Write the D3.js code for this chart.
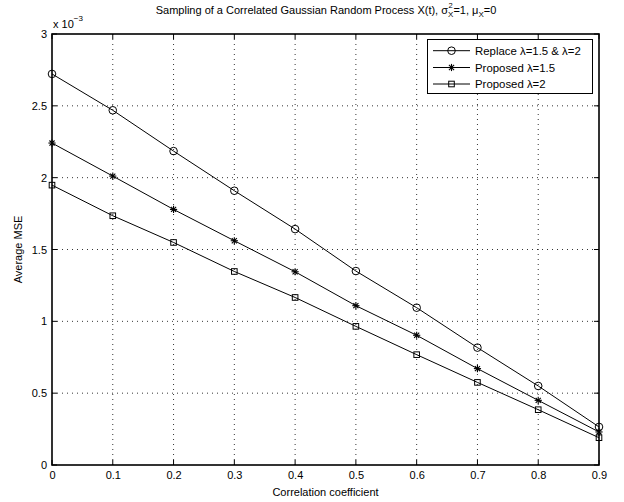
<!DOCTYPE html>
<html><head><meta charset="utf-8">
<script src="https://cdn.jsdelivr.net/npm/d3@7"></script>
<style>body{margin:0;background:#fff}svg{display:block}text{font-family:"Liberation Sans",Arial,sans-serif;fill:#000}</style>
</head><body>
<script>
const correlation = [0, 0.1, 0.2, 0.3, 0.4, 0.5, 0.6, 0.7, 0.8, 0.9];
const replaceMSE = [2.722, 2.469, 2.185, 1.909, 1.642, 1.350, 1.095, 0.817, 0.550, 0.265]; // x1e-3
const proposed15MSE = [2.241, 2.011, 1.779, 1.561, 1.345, 1.109, 0.903, 0.671, 0.450, 0.230];
const proposed2MSE = [1.948, 1.735, 1.549, 1.347, 1.166, 0.965, 0.768, 0.575, 0.385, 0.190];
const xTicks = [0, 0.1, 0.2, 0.3, 0.4, 0.5, 0.6, 0.7, 0.8, 0.9];
const yTicks = [0, 0.5, 1, 1.5, 2, 2.5, 3];
const seriesNames = ["Replace \u03bb=1.5 & \u03bb=2", "Proposed \u03bb=1.5", "Proposed \u03bb=2"];
const seriesMarkers = ["circle", "star", "square"];

const W = 624, H = 502;
const L = 52, R = 599, T = 34, B = 465;
const svg = d3.select("body").append("svg").attr("width", W).attr("height", H);
const x = d3.scaleLinear().domain([0, 0.9]).range([L, R]);
const y = d3.scaleLinear().domain([0, 3]).range([B, T]);

// grid
const g = svg.append("g");
g.selectAll(".vg").data(xTicks.slice(1, -1)).enter().append("line")
  .attr("x1", d => x(d)).attr("x2", d => x(d)).attr("y1", T).attr("y2", B)
  .attr("stroke", "#000").attr("stroke-width", 0.8).attr("stroke-dasharray", "1,4");
g.selectAll(".hg").data(yTicks.slice(1, -1)).enter().append("line")
  .attr("y1", d => y(d)).attr("y2", d => y(d)).attr("x1", L).attr("x2", R)
  .attr("stroke", "#000").attr("stroke-width", 0.8).attr("stroke-dasharray", "1,4");

// axes
const fs = 11;
const xAxisB = d3.axisBottom(x).tickValues(xTicks).tickSize(0).tickPadding(6).tickFormat(d3.format(""));
const ax = svg.append("g").attr("transform", `translate(0,${B})`).call(xAxisB);
ax.select(".domain").remove();
ax.selectAll("text").attr("font-size", fs).attr("font-family", "Liberation Sans, Arial, sans-serif");
const yAxisL = d3.axisLeft(y).tickValues(yTicks).tickSize(0).tickPadding(5).tickFormat(d3.format(""));
const ay = svg.append("g").attr("transform", `translate(${L},0)`).call(yAxisL);
ay.select(".domain").remove();
ay.selectAll("text").attr("font-size", fs).attr("font-family", "Liberation Sans, Arial, sans-serif");

// inner ticks
const tk = 5;
xTicks.forEach(v => {
  svg.append("line").attr("x1", x(v)).attr("x2", x(v)).attr("y1", B).attr("y2", B - tk).attr("stroke", "#000");
  svg.append("line").attr("x1", x(v)).attr("x2", x(v)).attr("y1", T).attr("y2", T + tk).attr("stroke", "#000");
});
yTicks.forEach(v => {
  svg.append("line").attr("y1", y(v)).attr("y2", y(v)).attr("x1", L).attr("x2", L + tk).attr("stroke", "#000");
  svg.append("line").attr("y1", y(v)).attr("y2", y(v)).attr("x1", R).attr("x2", R - tk).attr("stroke", "#000");
});
svg.append("rect").attr("x", L).attr("y", T).attr("width", R - L).attr("height", B - T)
  .attr("fill", "none").attr("stroke", "#000").attr("stroke-width", 1.6);

// markers
function drawMarker(sel, type, cx, cy) {
  if (type === "circle") {
    sel.append("circle").attr("cx", cx).attr("cy", cy).attr("r", 3.8).attr("fill", "none").attr("stroke", "#000").attr("stroke-width", 1);
  } else if (type === "square") {
    sel.append("rect").attr("x", cx - 2.8).attr("y", cy - 2.8).attr("width", 5.6).attr("height", 5.6).attr("fill", "none").attr("stroke", "#000").attr("stroke-width", 1);
  } else {
    const r = 3.6;
    [0, 45, 90, 135].forEach(a => {
      const rad = a * Math.PI / 180;
      sel.append("line").attr("x1", cx - r * Math.cos(rad)).attr("y1", cy - r * Math.sin(rad))
        .attr("x2", cx + r * Math.cos(rad)).attr("y2", cy + r * Math.sin(rad))
        .attr("stroke", "#000").attr("stroke-width", 1.1);
    });
  }
}

const allSeries = [replaceMSE, proposed15MSE, proposed2MSE];
const line = d3.line().x((d, i) => x(correlation[i])).y(d => y(d));
allSeries.forEach((s, k) => {
  svg.append("path").attr("d", line(s)).attr("fill", "none").attr("stroke", "#000").attr("stroke-width", 1);
  const mg = svg.append("g");
  s.forEach((v, i) => drawMarker(mg, seriesMarkers[k], x(correlation[i]), y(v)));
});

// exponent label
const ex = svg.append("text").attr("x", 53).attr("y", 28).attr("font-size", fs);
ex.append("tspan").text("x 10");
ex.append("tspan").attr("dy", -7).attr("font-size", 8).text("\u22123");

// legend
const lg = svg.append("g");
lg.append("rect").attr("x", 427.5).attr("y", 39.5).attr("width", 165).attr("height", 54)
  .attr("fill", "#fff").attr("stroke", "#000").attr("stroke-width", 1);
const rowsY = [50.7, 67.5, 84];
seriesNames.forEach((n, k) => {
  lg.append("line").attr("x1", 433).attr("x2", 470).attr("y1", rowsY[k]).attr("y2", rowsY[k]).attr("stroke", "#000");
  drawMarker(lg, seriesMarkers[k], 451.5, rowsY[k]);
  lg.append("text").attr("x", 475).attr("y", rowsY[k] + 4).attr("font-size", 11.4).text(n);
});

// title (sigma with stacked super/subscript drawn as separate texts)
const tt = svg.append("text").attr("x", 326).attr("y", 14).attr("text-anchor", "middle").attr("font-size", fs);
tt.append("tspan").text("Sampling of a Correlated Gaussian Random Process X(t), \u03c3");
tt.append("tspan").attr("font-size", 8).attr("dy", 3).text("X");
tt.append("tspan").attr("dy", -3).text("=1, \u03bc");
tt.append("tspan").attr("font-size", 8).attr("dy", 3).text("X");
tt.append("tspan").attr("dy", -3).text("=0");
// superscript 2 positioned above the first X subscript
const sub = tt.selectAll("tspan").nodes()[1];
const bb = sub.getBBox();
svg.append("text").attr("x", bb.x + 0.5).attr("y", 8).attr("font-size", 7.5).text("2");

// axis labels
svg.append("text").attr("x", (L + R) / 2).attr("y", 496).attr("text-anchor", "middle").attr("font-size", fs).text("Correlation coefficient");
svg.append("text").attr("transform", `translate(22,${(T + B) / 2}) rotate(-90)`).attr("text-anchor", "middle").attr("font-size", fs).text("Average MSE");
</script>
</body></html>
